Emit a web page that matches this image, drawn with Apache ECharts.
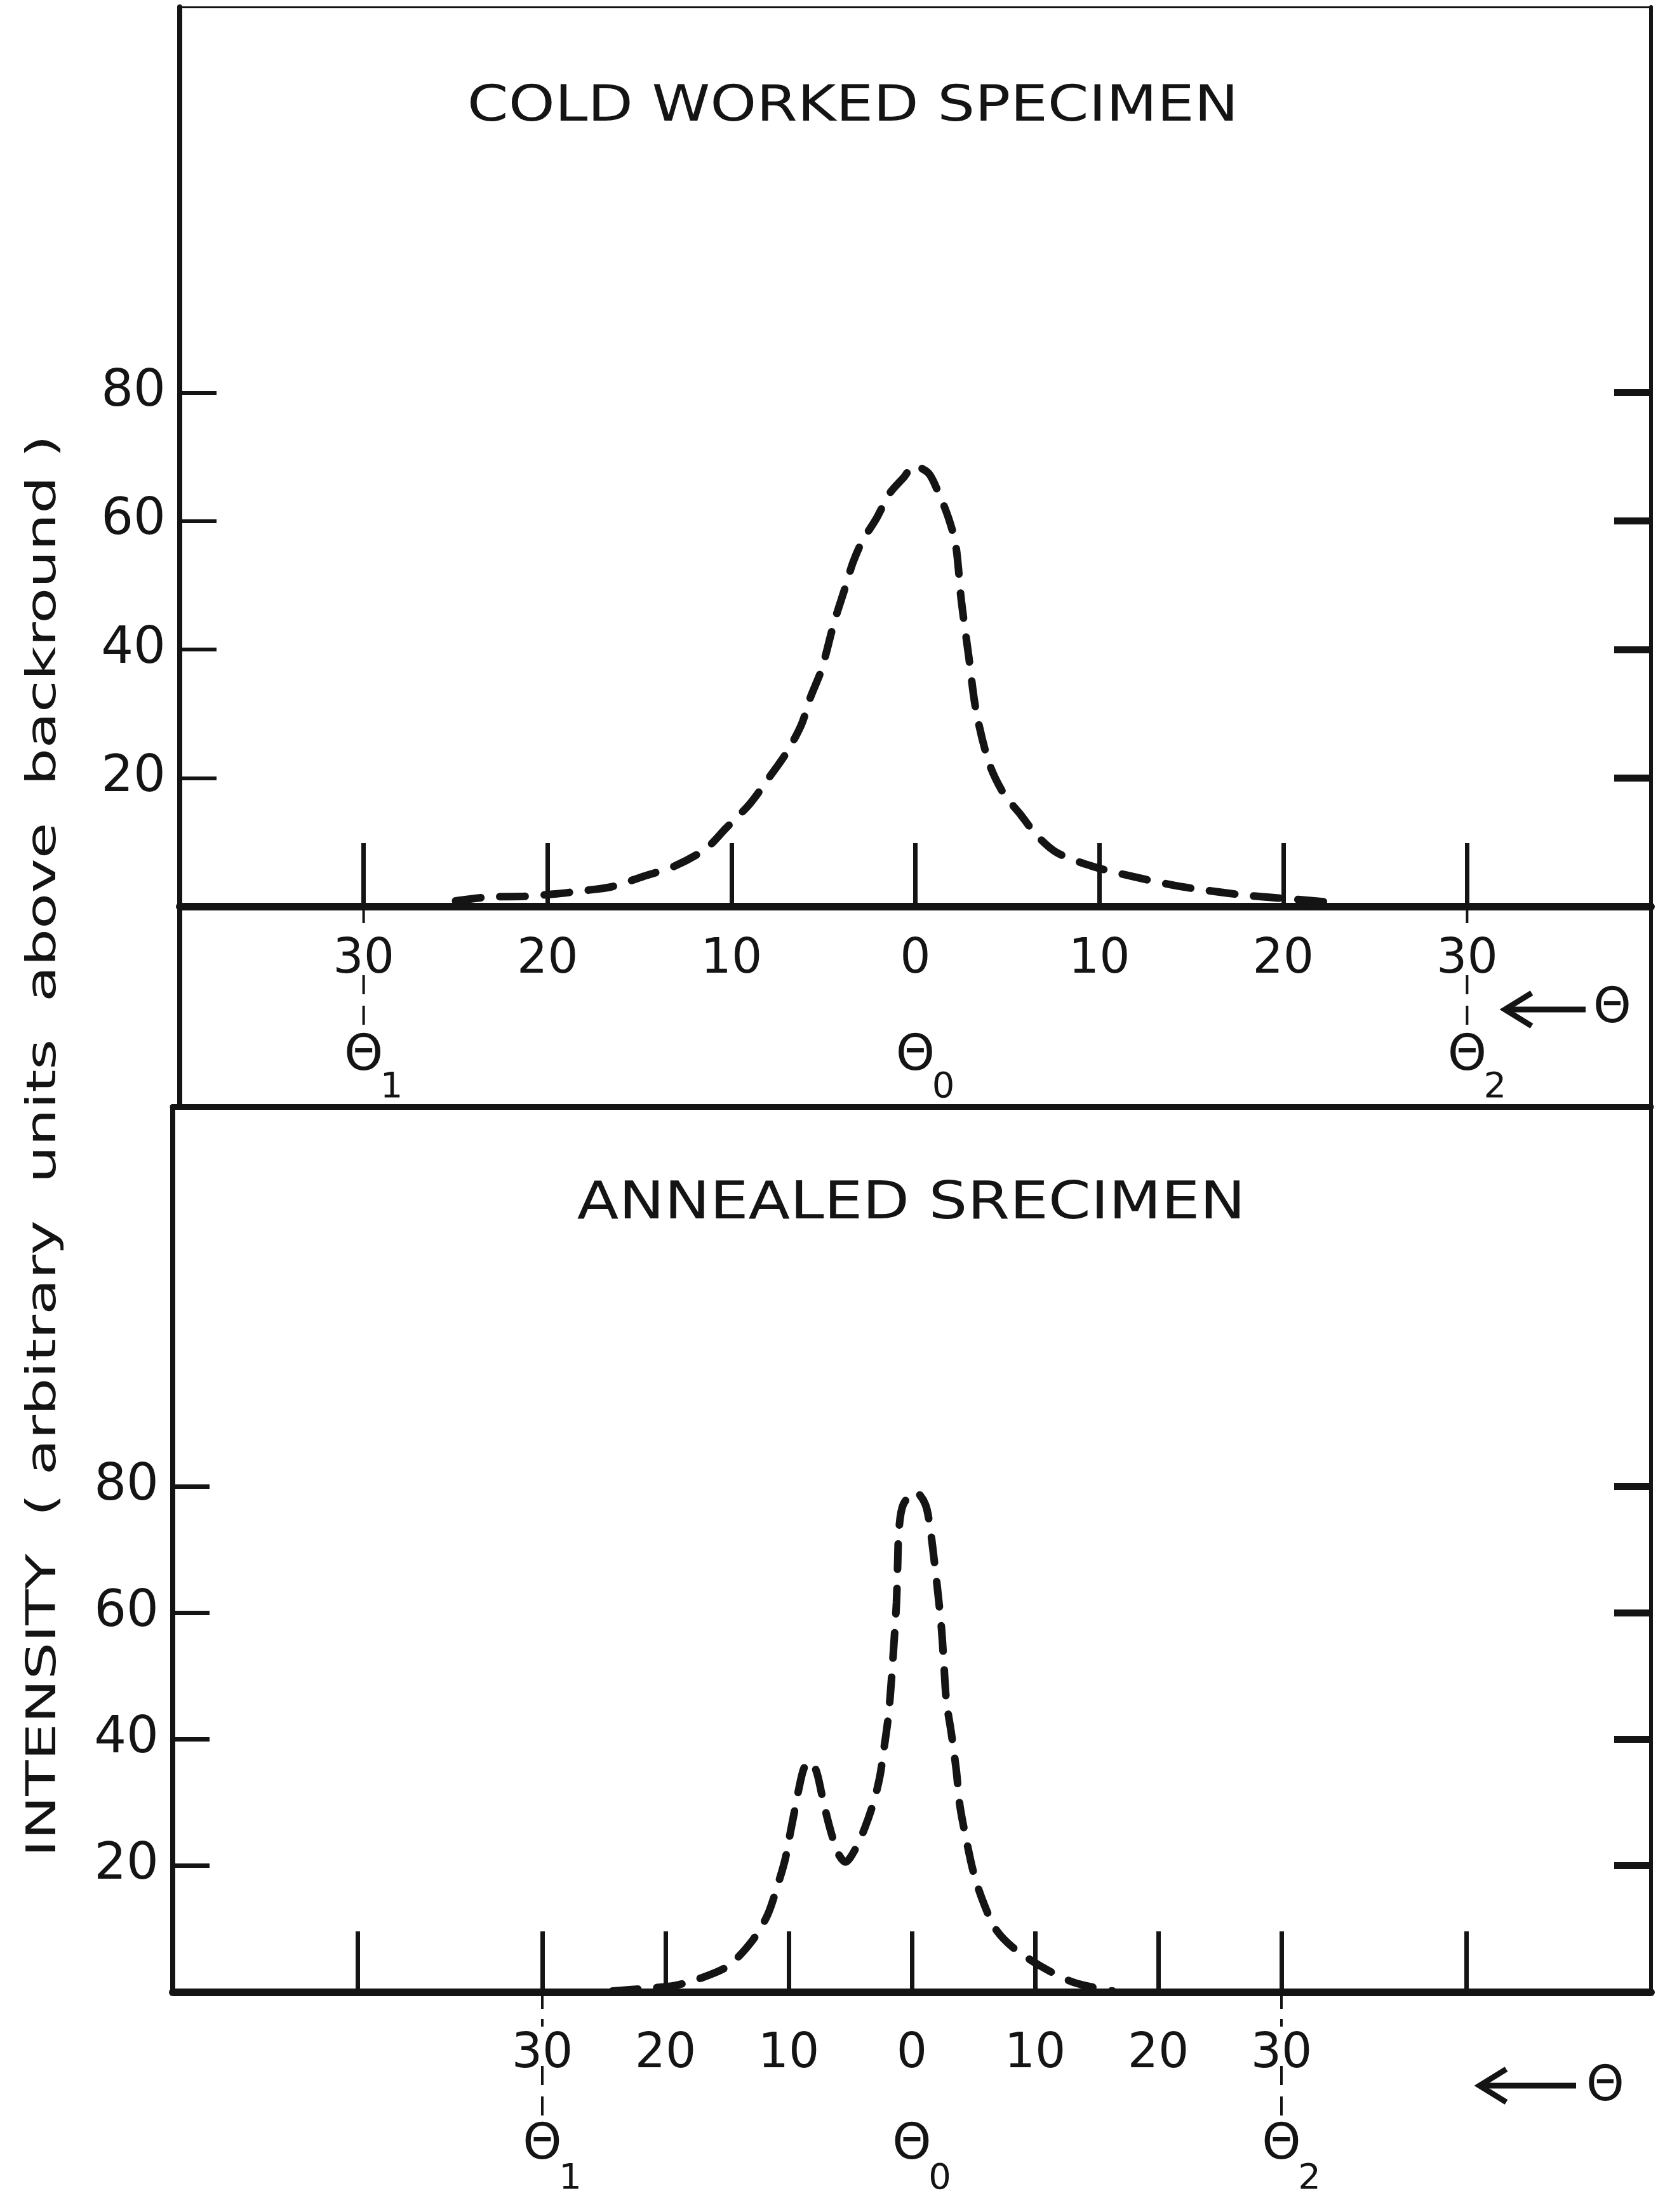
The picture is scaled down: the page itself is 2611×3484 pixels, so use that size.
<!DOCTYPE html>
<html>
<head>
<meta charset="utf-8">
<script src="https://cdn.jsdelivr.net/npm/echarts@6/dist/echarts.min.js"></script>
<style>
  html, body { margin: 0; padding: 0; background: #fff; }
  #chart { width: 2611px; height: 3484px; }
</style>
</head>
<body>
<div id="chart"></div>
<script>
// Angle offsets from theta0 (degrees, positive = left, as the "<- theta" arrow says)
// and intensities.
const coldTheta = [25.0, 23.2, 21.3, 19.5, 18.0, 16.5, 14.8, 13.1, 11.4, 10.3, 9.0, 7.9, 7.0, 6.2, 5.7, 5.1, 4.4, 3.8, 3.4, 2.9, 2.1, 1.4, 0.6, 0.1, -0.7, -1.2, -1.8, -2.2, -2.5, -2.9, -3.3, -4.0, -4.8, -5.7, -6.6, -7.7, -9.6, -11.8, -14.1, -15.9, -18.2, -20.4, -22.5];
const coldIntensity = [0.9, 1.5, 1.6, 2.0, 2.5, 3.1, 4.7, 6.3, 9.0, 12.2, 16.0, 20.3, 24.0, 28.3, 32.6, 36.9, 44.4, 49.8, 53.5, 56.8, 60.5, 64.3, 66.9, 68.6, 67.5, 64.8, 60.5, 56.2, 47.6, 39.0, 30.5, 22.4, 17.6, 14.4, 11.1, 8.4, 6.3, 4.7, 3.3, 2.5, 1.7, 1.2, 0.7];

const annealTheta = [24.3, 21.6, 19.2, 17.2, 14.9, 12.9, 11.7, 10.9, 10.3, 9.9, 9.5, 9.15, 8.8, 8.4, 7.8, 7.3, 6.9, 6.5, 6.0, 5.4, 4.6, 3.8, 3.1, 2.6, 2.25, 1.9, 1.65, 1.45, 1.25, 1.15, 1.05, 0.7, -0.3, -1.1, -1.5, -1.8, -2.1, -2.4, -2.6, -2.8, -3.2, -3.6, -3.9, -4.4, -5.05, -5.85, -6.8, -8.2, -10.4, -13.1, -16.3];
const annealIntensity = [0.2, 0.6, 1.1, 2.2, 4.2, 8.3, 12.3, 16.9, 20.9, 24.9, 28.9, 32.4, 35.2, 36.5, 35.2, 31.2, 27.8, 24.9, 22.0, 20.6, 22.6, 26.1, 30.1, 34.1, 38.7, 43.8, 49.6, 55.3, 61.6, 67.9, 73.1, 77.1, 79.1, 77.1, 73.1, 68.5, 63.4, 57.6, 51.9, 46.1, 41.0, 35.2, 29.5, 24.3, 18.6, 14.0, 10.0, 7.1, 4.2, 1.6, 0.2];

// axis ticks and labels
const topTicks = [-30, -20, -10, 0, 10, 20, 30];
const bottomTicks = [-45, -30, -20, -10, 0, 10, 20, 30, 45];
const bottomLabels = [-30, -20, -10, 0, 10, 20, 30];
const intensityTicks = [20, 40, 60, 80];

// reference angles theta1, theta0, theta2
const refAngles = [30, 0, -30];
const refNames = ["1", "0", "2"];

const INK = "#141414";
const FONT = "DejaVu Sans";

function pairs(xs, ys) {
  return xs.map((x, i) => [x, ys[i]]);
}

function frameAxis(gridIndex, position, width, min, max) {
  return {
    type: "value",
    gridIndex: gridIndex,
    position: position,
    min: min,
    max: max,
    axisLine: { show: true, onZero: false, lineStyle: { color: INK, width: width } },
    axisTick: { show: false },
    axisLabel: { show: false },
    splitLine: { show: false }
  };
}

let chart = echarts.init(document.getElementById("chart"), null, { renderer: "canvas" });

let option = {
  backgroundColor: "#ffffff",
  animation: false,
  grid: [
    { left: 283, top: 11, width: 2317, height: 1417 },
    { left: 272, top: 1743, width: 2328, height: 1395 }
  ],
  xAxis: [
    {
      type: "value",
      gridIndex: 0,
      position: "bottom",
      min: -40,
      max: 40,
      inverse: true,
      axisLine: { onZero: false, lineStyle: { color: INK, width: 12 } },
      axisTick: {
        show: true, inside: true, length: 100, customValues: topTicks,
        lineStyle: { color: INK, width: 7 }
      },
      axisLabel: {
        customValues: topTicks, margin: 46, color: INK,
        fontFamily: FONT, fontSize: 76,
        formatter: (v) => String(Math.abs(v))
      },
      splitLine: { show: false }
    },
    frameAxis(0, "top", 3, -40, 40),
    {
      type: "value",
      gridIndex: 1,
      position: "bottom",
      min: -60,
      max: 60,
      inverse: true,
      axisLine: { onZero: false, lineStyle: { color: INK, width: 12 } },
      axisTick: {
        show: true, inside: true, length: 96, customValues: bottomTicks,
        lineStyle: { color: INK, width: 7 }
      },
      axisLabel: {
        customValues: bottomLabels, margin: 60, color: INK,
        fontFamily: FONT, fontSize: 76,
        formatter: (v) => String(Math.abs(v))
      },
      splitLine: { show: false }
    },
    frameAxis(1, "top", 9, -60, 60)
  ],
  yAxis: [
    {
      type: "value",
      gridIndex: 0,
      position: "left",
      min: 0,
      max: 140,
      axisLine: { show: true, onZero: false, lineStyle: { color: INK, width: 8 } },
      axisTick: {
        show: true, inside: true, length: 58, customValues: intensityTicks,
        lineStyle: { color: INK, width: 6 }
      },
      axisLabel: {
        customValues: intensityTicks, margin: 22, color: INK,
        fontFamily: FONT, fontSize: 80
      },
      splitLine: { show: false }
    },
    {
      type: "value",
      gridIndex: 0,
      position: "right",
      min: 0,
      max: 140,
      axisLine: { show: true, onZero: false, lineStyle: { color: INK, width: 6 } },
      axisTick: {
        show: true, inside: true, length: 58, customValues: intensityTicks,
        lineStyle: { color: INK, width: 11 }
      },
      axisLabel: { show: false },
      splitLine: { show: false }
    },
    {
      type: "value",
      gridIndex: 1,
      position: "left",
      min: 0,
      max: 140,
      axisLine: { show: true, onZero: false, lineStyle: { color: INK, width: 8 } },
      axisTick: {
        show: true, inside: true, length: 58, customValues: intensityTicks,
        lineStyle: { color: INK, width: 7 }
      },
      axisLabel: {
        customValues: intensityTicks, margin: 22, color: INK,
        fontFamily: FONT, fontSize: 80
      },
      splitLine: { show: false }
    },
    {
      type: "value",
      gridIndex: 1,
      position: "right",
      min: 0,
      max: 140,
      axisLine: { show: true, onZero: false, lineStyle: { color: INK, width: 6 } },
      axisTick: {
        show: true, inside: true, length: 58, customValues: intensityTicks,
        lineStyle: { color: INK, width: 11 }
      },
      axisLabel: { show: false },
      splitLine: { show: false }
    }
  ],
  series: [
    {
      name: "Cold worked",
      type: "line",
      xAxisIndex: 0,
      yAxisIndex: 0,
      data: pairs(coldTheta, coldIntensity),
      smooth: 0.3,
      showSymbol: false,
      lineStyle: { color: INK, width: 12, type: [40, 30], cap: "round" }
    },
    {
      name: "Annealed",
      type: "line",
      xAxisIndex: 2,
      yAxisIndex: 2,
      data: pairs(annealTheta, annealIntensity),
      smooth: 0.3,
      showSymbol: false,
      lineStyle: { color: INK, width: 12, type: [40, 30], cap: "round" }
    }
  ]
};

chart.setOption(option);

// text helper for the graphic layer
function label(text, x, y, size, extra) {
  return Object.assign({
    type: "text",
    x: x,
    y: y,
    style: {
      text: text,
      fill: INK,
      fontFamily: FONT,
      fontSize: size,
      align: "center",
      verticalAlign: "middle",
      textAlign: "center",
      textVerticalAlign: "middle"
    }
  }, extra || {});
}

function vline(x, y1, y2, width, dash) {
  return {
    type: "line",
    shape: { x1: x, y1: y1, x2: x, y2: y2 },
    style: { stroke: INK, lineWidth: width, lineDash: dash || null }
  };
}

function hline(x1, x2, y, width) {
  return {
    type: "line",
    shape: { x1: x1, y1: y, x2: x2, y2: y },
    style: { stroke: INK, lineWidth: width }
  };
}

function arrowLeft(x1, x2, y) {
  return [
    hline(x1, x2, y, 9),
    {
      type: "polyline",
      shape: { points: [[x1 + 42, y - 26], [x1, y], [x1 + 42, y + 26]] },
      style: { stroke: INK, lineWidth: 9, fill: null }
    }
  ];
}

// theta reference marks below each axis, placed through the axis scales
function thetaMarks(axisIndex, labelTop, labelBottom, axisY, thetaY, subDy) {
  let out = [];
  refAngles.forEach((a, i) => {
    let x = chart.convertToPixel({ xAxisIndex: axisIndex }, a);
    if (a !== 0) {
      out.push(vline(x, axisY, labelTop, 4, [26, 16]));
      out.push(vline(x, labelBottom, thetaY - 36, 4, [30, 18]));
    }
    out.push(label("\u0398", x, thetaY, 78));
    out.push(label(refNames[i], x + 44, thetaY + subDy, 56));
  });
  return out;
}

let graphics = [
  // outer frame below the top plot area
  vline(283, 1428, 1747, 8),
  vline(2600, 1428, 1747, 6),
  // panel titles
  label("COLD WORKED SPECIMEN", 1343, 170, 78, { scaleX: 1.19 }),
  label("ANNEALED SRECIMEN", 1435, 1898, 82, { scaleX: 1.17 }),
  // vertical axis title
  label("INTENSITY  ( arbitrary  units  above  backround )", 70, 1805, 64,
    { rotation: Math.PI / 2, scaleX: 1.44 }),
  label("\u0398", 2539, 1590, 76),
  label("\u0398", 2528, 3288, 76)
];
graphics = graphics.concat(arrowLeft(2370, 2497, 1590));
graphics = graphics.concat(arrowLeft(2330, 2482, 3285));
graphics = graphics.concat(thetaMarks(0, 1470, 1536, 1428, 1665, 48));
graphics = graphics.concat(thetaMarks(2, 3192, 3254, 3138, 3380, 52));

chart.setOption({ graphic: graphics });
</script>
</body>
</html>
